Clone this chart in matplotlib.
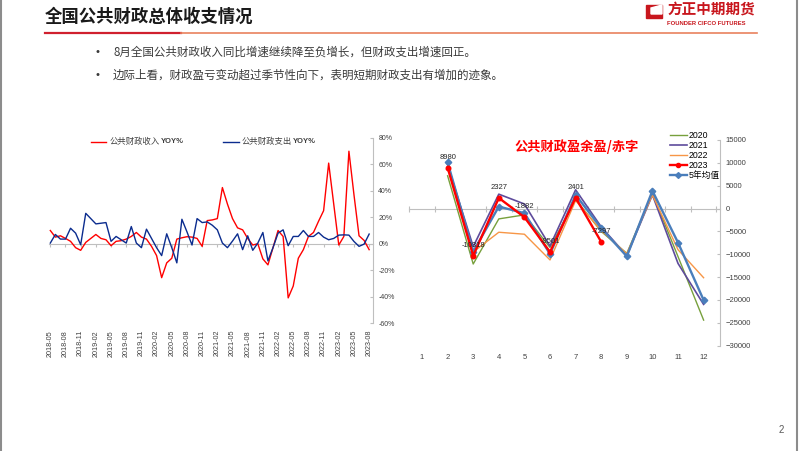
import numpy as np
import pandas as pd
import matplotlib
matplotlib.use("Agg")
import matplotlib.pyplot as plt
from matplotlib.lines import Line2D
from matplotlib.patches import Polygon

plt.rcParams['font.family'] = ['Liberation Sans', 'Noto Sans CJK SC', 'DejaVu Sans']
CJK = ['Noto Sans CJK SC', 'DejaVu Sans']

# ---- left chart: monthly YOY (%) 2018-05 .. 2023-08
months = pd.date_range("2018-05-01", "2023-08-01", freq="MS").strftime("%Y-%m").tolist()
revenue_yoy = [10, 5, 6, 4, 1.8, -3, -5, 1, 4, 7, 4, 3, -1.5, 1.8, 2.3, 3.5,
               5.5, 8.5, 5, 3.5, -2, -9, -25.7, -14.5, -11, 3.5, 4.5, 5.3, 5, 4, -2, 17.5,
               18, 19, 42.5, 30, 19, 12, 10.5, 4, -1, 0, -11.5, -16, -3, 10,
               5.5, -41, -32, -11, -4.5, 5.5, 8.5, 17, 25, 61, 30, -1, 5.5, 70,
               37, 6, 2.5, -4.5]
spending_yoy = [0.5, 7, 3.5, 3.5, 11.7, 8, -0.8, 23, 19, 15, 15.5, 16, 1.8, 5.5, 3, 0.5,
                13, 0.5, -3, 11, 4, -3, -9, 7.5, -3, -14.5, 18.5, 9, -1, 19, 16, 16.5,
                14, 10.5, 0.5, -3, 2, 7.5, -4.5, 6, -5, 0.5, 8.5, -13, -3, 8,
                10.5, -1.5, 5.5, 5.5, 10, 5.5, 5.5, 8.5, 5, 3, 4, 6.5, 6.7, 6.5,
                1.7, -2, -0.3, 7.3]

# ---- right chart: monthly balance (100m yuan)
cal_month = list(range(1, 13))
nan = np.nan
bal_2020 = [nan, 7170, -12130, -2260, -1380, -8500, 2000, -5000, -9800, 3300, -10500, -24400]
bal_2021 = [nan, 9580, -8330, 3150, 1000, -8200, 4100, -4000, -10300, 3000, -12000, -20970]
bal_2022 = [nan, 9950, -9500, -5180, -5610, -11240, 1750, -4800, -9900, 3000, -9000, -15130]
bal_2023 = [nan, 8980, -10318, 2327, -1882, -9501, 2401, -7297, nan, nan, nan, nan]
bal_avg5 = [nan, 10090, -9430, 440, -1010, -9930, 3000, -4300, -10460, 3880, -7450, -20020]

W, H = 802, 451


def fx(x):
    return x / W


def fy(y):
    return 1 - y / H


fig = plt.figure(figsize=(W / 100, H / 100), dpi=100)
fig.patch.set_facecolor('white')

# slide frame
fig.add_artist(Line2D([fx(1), fx(1)], [0, 1], color='#8C8C8C', lw=1.5))
fig.add_artist(Line2D([fx(797), fx(797)], [0, 1], color='#8C8C8C', lw=1.5))

# header
fig.text(fx(45), fy(17), '全国公共财政总体收支情况', family=CJK, fontsize=12.5,
         weight='bold', color='#1A1A1A', va='center', ha='left')
fig.add_artist(Line2D([fx(45), fx(181)], [fy(32.5)] * 2, color='#D0202E', lw=1.6))
fig.add_artist(Line2D([fx(181), fx(757)], [fy(32.8)] * 2, color='#E9825E', lw=1.2))

# logo
fig.add_artist(Polygon([(fx(646), fy(5)), (fx(662), fy(5)), (fx(662), fy(18)),
                        (fx(646), fy(18))], closed=True, color='#C8161D', transform=fig.transFigure))
fig.add_artist(Polygon([(fx(651), fy(8)), (fx(662), fy(5)), (fx(662), fy(14)),
                        (fx(651), fy(14))], closed=True, color='white', transform=fig.transFigure))
fig.text(fx(667), fy(10), '方正中期期货', family=CJK, fontsize=10.5, weight='bold',
         color='#C8161D', va='center', ha='left')
fig.text(fx(667), fy(23.5), 'FOUNDER CIFCO FUTURES', fontsize=4.2, weight='bold',
         color='#C8161D', va='center', ha='left')

# bullets
bullets = ['8月全国公共财政收入同比增速继续降至负增长，但财政支出增速回正。',
           '边际上看，财政盈亏变动超过季节性向下，表明短期财政支出有增加的迹象。']
for yy, s in zip([52, 75], bullets):
    fig.text(fx(96), fy(yy), '•', fontsize=8, color='#3A3A3A', va='center')
    fig.text(fx(113), fy(yy), s, family=CJK, fontsize=8.3, color='#3A3A3A', va='center')

fig.text(fx(779), fy(430), '2', fontsize=7, color='#595959', va='center')

# ---------------- left chart ----------------
ax1 = fig.add_axes([fx(49.3), fy(323), (372.7 - 49.3) / W, (323 - 138) / H])
x = np.arange(len(months))
red, navy = '#FF0000', '#0B2C8E'
ax1.plot(x, revenue_yoy, color=red, lw=1.0)
ax1.plot(x, spending_yoy, color=navy, lw=1.0)
ax1.set_xlim(-0.2, 63.7)
ax1.set_ylim(-60, 80)
for s in ['top', 'left', 'bottom']:
    ax1.spines[s].set_visible(False)
ax1.spines['right'].set_color('#BFBFBF')
ax1.yaxis.tick_right()
yt = list(range(-60, 81, 20))
ax1.set_yticks(yt)
ax1.set_yticklabels([f'{v}%' for v in yt])
ax1.tick_params(axis='y', direction='in', length=2.5, color='#BFBFBF', labelsize=5,
                labelcolor='#404040', pad=4)
ax1.set_xticks(x[::3])
ax1.set_xticklabels(months[::3], rotation=90, fontsize=5.2, color='#404040')
ax1.tick_params(axis='x', length=0, pad=5)
zero1 = ax1.secondary_xaxis(60 / 140)
zero1.set_xticks(x[::3])
zero1.set_xticklabels([])
zero1.tick_params(length=2, color='#BFBFBF')
for s in zero1.spines.values():
    s.set_color('#BFBFBF')
ax1.patch.set_alpha(0)

# left legend
fig.add_artist(Line2D([fx(90.7), fx(106)], [fy(141.7)] * 2, color=red, lw=1.0))
fig.text(fx(110), fy(141.7), '公共财政收入', family=CJK, fontsize=6, color='#404040', va='center')
fig.text(fx(160.5), fy(141.7), 'YOY%', fontsize=5.5, weight='bold', color='#404040', va='center')
fig.add_artist(Line2D([fx(222.7), fx(239.3)], [fy(141.7)] * 2, color=navy, lw=1.0))
fig.text(fx(241.7), fy(141.7), '公共财政支出', family=CJK, fontsize=6, color='#404040', va='center')
fig.text(fx(292.5), fy(141.7), 'YOY%', fontsize=5.5, weight='bold', color='#404040', va='center')

# ---------------- right chart ----------------
ax2 = fig.add_axes([fx(409.2), fy(345.7), (720 - 409.2) / W, (345.7 - 140) / H])
l20, = ax2.plot(cal_month, bal_2020, color='#77A03C', lw=1.0)
l21, = ax2.plot(cal_month, bal_2021, color='#5E4B9C', lw=1.2)
l22, = ax2.plot(cal_month, bal_2022, color='#F79646', lw=1.0)
lav, = ax2.plot(cal_month, bal_avg5, color='#4A7EBB', lw=1.7, marker='D', ms=3.3)
l23, = ax2.plot(cal_month, bal_2023, color='#FF0000', lw=1.7, marker='o', ms=3.3)
for m, v in zip(cal_month, bal_2023):
    if not np.isnan(v):
        ax2.annotate(f'{v:.0f}', (m, v), xytext=(0, 7.5), textcoords='offset points',
                     ha='center', va='center', fontsize=5.5, color='#262626')
ax2.set_xlim(0.5, 12.64)
ax2.set_ylim(-30000, 15000)
for s in ['top', 'left', 'bottom']:
    ax2.spines[s].set_visible(False)
ax2.spines['right'].set_color('#BFBFBF')
ax2.yaxis.tick_right()
ax2.set_yticks(range(-30000, 15001, 5000))
ax2.tick_params(axis='y', direction='in', length=2.5, color='#BFBFBF', labelsize=5.5,
                labelcolor='#404040', pad=4)
ax2.set_xticks(cal_month)
ax2.tick_params(axis='x', length=0, pad=6, labelsize=5.5, labelcolor='#404040')
zero2 = ax2.secondary_xaxis(30000 / 45000)
zero2.set_xticks(np.arange(0.5, 12.6, 1))
zero2.set_xticklabels([])
zero2.tick_params(direction='inout', length=4, color='#BFBFBF')
for s in zero2.spines.values():
    s.set_color('#BFBFBF')
ax2.patch.set_alpha(0)

fig.text(fx(577), fy(147), '公共财政盈余盈/赤字', family=CJK, fontsize=9.5, weight='bold',
         color='#FF0000', ha='center', va='center')

ax2.legend([l20, l21, l22, l23, lav], ['2020', '2021', '2022', '2023', '5年均值'],
           loc='upper left', bbox_to_anchor=(fx(670), fy(131)), bbox_transform=fig.transFigure,
           frameon=False, fontsize=6.3, handlelength=1.9, handletextpad=0.25,
           labelspacing=0.12, borderpad=0, borderaxespad=0, markerscale=0.9)

fig.savefig('out.png', dpi=100, facecolor='white')
